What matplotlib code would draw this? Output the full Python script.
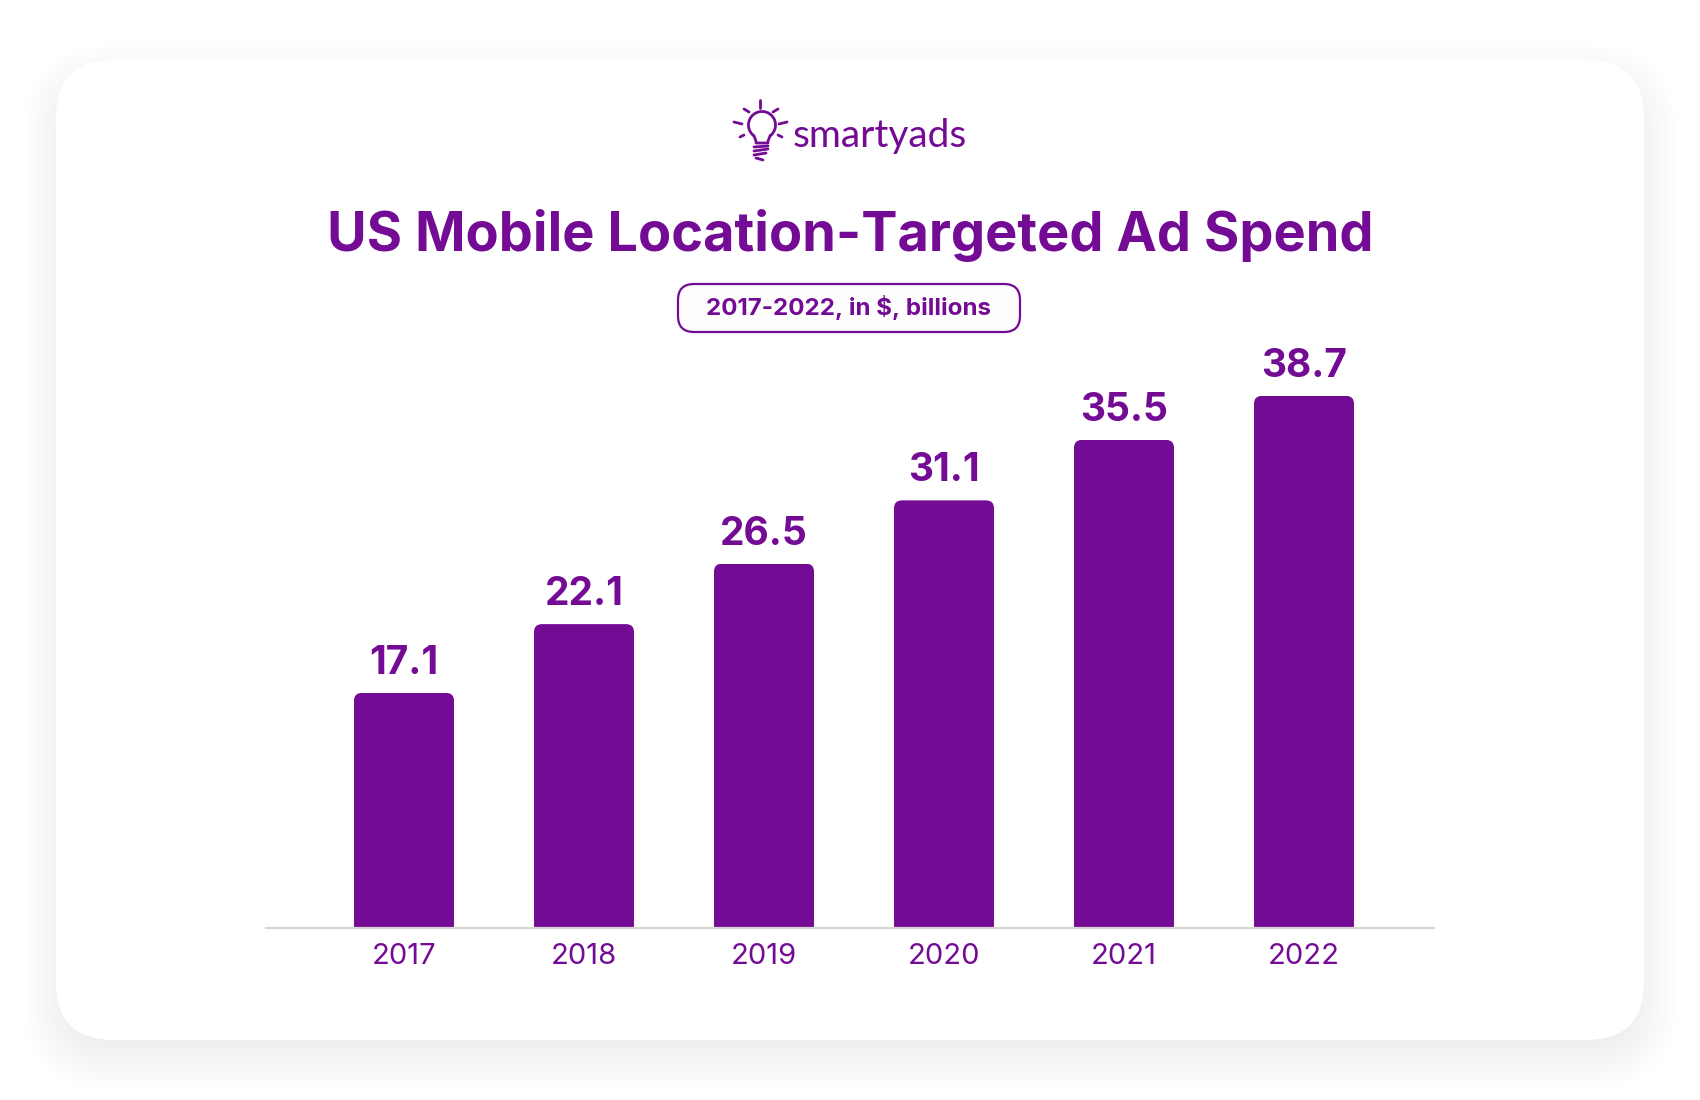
import matplotlib
matplotlib.use('Agg')
import matplotlib.pyplot as plt
import matplotlib.patches as patches

# Data
years = ['2017', '2018', '2019', '2020', '2021', '2022']
spend = [17.1, 22.1, 26.5, 31.1, 35.5, 38.7]

c_purple = '#730b94'
c_line = '#d6d6d6'
font = ['Inter', 'DejaVu Sans']

W, H = 1700, 1100
fig = plt.figure(figsize=(W / 100, H / 100), dpi=100, facecolor='white')

# Background layer in pixel coordinates for card, shadow and logo
bg = fig.add_axes([0, 0, 1, 1])
bg.set_xlim(0, W)
bg.set_ylim(H, 0)
bg.axis('off')


def round_box(ax, x0, y0, x1, y1, r, **kw):
    box = patches.FancyBboxPatch((x0 + r, y0 + r), x1 - x0 - 2 * r, y1 - y0 - 2 * r,
                                 boxstyle='round,pad=%f,rounding_size=%f' % (r, r), **kw)
    ax.add_patch(box)
    return box


# Soft shadow: stacked translucent boxes, pushed down below the card
for grow in range(34, -16, -3):
    round_box(bg, 56 - grow, 78 - grow, 1644 + grow, 1056 + grow, 58 + grow,
              facecolor='black', edgecolor='none', alpha=0.004, zorder=1)
round_box(bg, 56, 60, 1644, 1040, 58, facecolor='white', edgecolor='none', zorder=2)

# Logo bulb
lw_logo = 2.0
bg.add_patch(patches.Arc((762, 125), 27, 27, theta1=125, theta2=55, color=c_purple, lw=lw_logo, zorder=3))
bg.plot([754, 756, 756, 768, 768, 770], [136, 141, 143, 143, 141, 136], color=c_purple, lw=lw_logo, zorder=3)
for xs, ys in [([760, 760], [100, 108]), ([744, 749], [109, 112]), ([778, 773], [109, 112]),
               ([734, 742], [122, 124]), ([787, 779], [122, 124]), ([740, 744], [137, 135]),
               ([782, 778], [137, 135]), ([754, 768], [147, 146]), ([754, 768], [151, 149]),
               ([754, 766], [155, 153]), ([756, 763], [158, 160])]:
    bg.plot(xs, ys, color=c_purple, lw=lw_logo, zorder=3, solid_capstyle='round')
bg.text(793, 136, 'smartyads', color=c_purple, fontsize=28, family=['Lato', 'Noto Sans'],
        ha='left', va='center', zorder=3)

# Title and pill
bg.text(850, 235, 'US Mobile Location-Targeted Ad Spend', color=c_purple, fontsize=39,
        fontweight='bold', family=font, ha='center', va='center', zorder=3)
round_box(bg, 678, 284, 1020, 332, 16, facecolor='#fdfdfd', edgecolor=c_purple, lw=1.6, zorder=3)
bg.text(849, 308, '2017-2022, in $, billions', color=c_purple, fontsize=17.4,
        fontweight='bold', family=font, ha='center', va='center', zorder=4)

# Chart axes: one x unit = 180 px, one y unit = 13.75 px
left, right, base, top = 266, 1434, 928, 340
y_px = 13.75
ax = fig.add_axes([left / W, 1 - base / H, (right - left) / W, (base - top) / H])
ax.patch.set_alpha(0)
ax.set_zorder(5)
ax.set_xlim(-138 / 180, 5 + 130 / 180)
ax.set_ylim(0, (base - top) / y_px)

pos = list(range(len(years)))
bars = ax.bar(pos, spend, width=100 / 180, color=c_purple, linewidth=0)
for bar, val in zip(bars, spend):
    clip = patches.FancyBboxPatch((bar.get_x(), -2), bar.get_width(), val + 2,
                                  boxstyle='round,pad=0,rounding_size=%f' % (8 / 180),
                                  mutation_aspect=180 / y_px, transform=ax.transData)
    bar.set_clip_path(clip)
    ax.text(bar.get_x() + bar.get_width() / 2, val + 0.8, '%.1f' % val, color=c_purple,
            fontsize=28, fontweight='bold', family=font, ha='center', va='bottom')

ax.set_xticks(pos)
ax.set_xticklabels(years, color=c_purple, fontsize=21, family=font)
ax.tick_params(axis='x', length=0, pad=11)
ax.set_yticks([])
for s in ['top', 'left', 'right']:
    ax.spines[s].set_visible(False)
ax.spines['bottom'].set_color(c_line)
ax.spines['bottom'].set_linewidth(1.6)

fig.savefig('out.png', dpi=100, facecolor='white')
